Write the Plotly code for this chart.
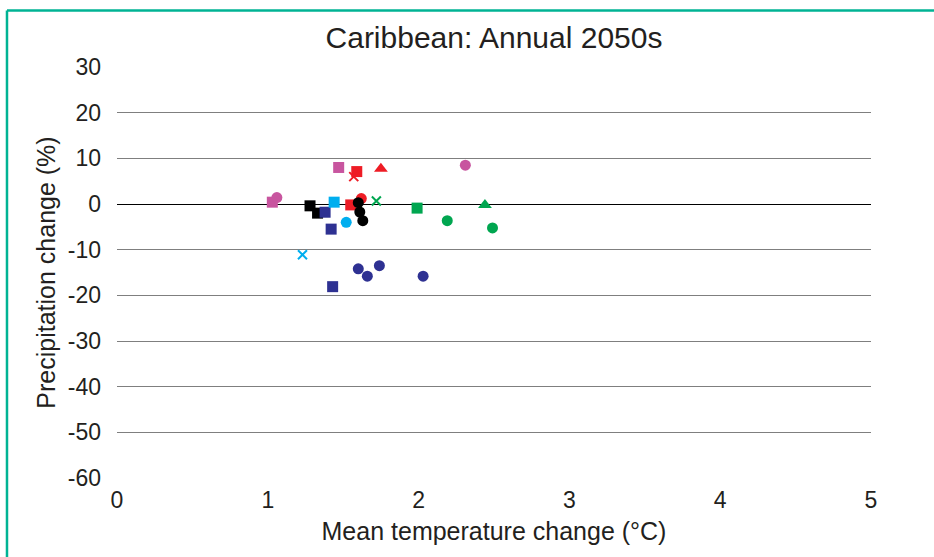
import plotly.graph_objects as go

# Data (x: mean temperature change °C, y: precipitation change %)
groups = [
    # (color, symbol, xs, ys)
    ("#c8559f", "square", [1.47, 1.03], [8.0, 0.4]),
    ("#c8559f", "circle", [1.06, 2.31], [1.4, 8.5]),
    ("#ee1c25", "square", [1.59, 1.55], [7.1, -0.2]),
    ("#ee1c25", "x-thin", [1.57], [6.0]),
    ("#ee1c25", "triangle-up", [1.75], [7.7]),
    ("#ee1c25", "circle", [1.62], [1.2]),
    ("#000000", "square", [1.28, 1.33], [-0.4, -2.0]),
    ("#000000", "circle", [1.60, 1.61, 1.63], [0.3, -1.75, -3.65]),
    ("#2e3192", "square", [1.38, 1.42, 1.43], [-1.8, -5.5, -18.1]),
    ("#2e3192", "circle", [1.60, 1.66, 1.74, 2.03], [-14.2, -15.8, -13.5, -15.8]),
    ("#00aeef", "square", [1.44], [0.4]),
    ("#00aeef", "circle", [1.52], [-4.0]),
    ("#00aeef", "x-thin", [1.23], [-11.1]),
    ("#00a650", "x-thin", [1.72], [0.65]),
    ("#00a650", "square", [1.99], [-0.9]),
    ("#00a650", "triangle-up", [2.44], [-0.2]),
    ("#00a650", "circle", [2.19, 2.49], [-3.65, -5.25]),
]

x_ticks = [0, 1, 2, 3, 4, 5]
y_ticks = [30, 20, 10, 0, -10, -20, -30, -40, -50, -60]
y_labels = ["30", "20", "10", "0", "-10", "-20", "-30", "-40", "-50", "-60"]

fig = go.Figure()
for color, sym, xs, ys in groups:
    is_x = sym == "x-thin"
    fig.add_trace(go.Scatter(
        x=xs, y=ys, mode="markers",
        marker=dict(
            symbol=sym,
            color=color,
            size=9 if is_x else (11 if sym != "triangle-up" else 12),
            line=dict(color=color, width=2 if is_x else 0),
        ),
        showlegend=False,
        cliponaxis=False,
    ))

font = "Liberation Sans, Arial, sans-serif"
fig.update_layout(
    width=934, height=557,
    margin=dict(l=117, r=63, t=67, b=79),
    paper_bgcolor="white", plot_bgcolor="white",
    font=dict(family=font, color="#231f20"),
    title=dict(text="Caribbean: Annual 2050s", x=0.5, xref="paper", xanchor="center",
               y=1 - 37 / 557, yanchor="middle", font=dict(size=30, color="#231f20")),
    xaxis=dict(range=[0, 5], tickvals=x_ticks, showgrid=False, zeroline=False,
               showline=False, ticks="", tickfont=dict(size=23), ticklabelstandoff=6,
               title=dict(text="Mean temperature change (°C)", font=dict(size=25), standoff=10)),
    yaxis=dict(range=[-60, 30], tickvals=y_ticks, ticktext=y_labels, showgrid=True,
               gridcolor="#7f7f7f", gridwidth=1, zeroline=True, zerolinecolor="#000000",
               zerolinewidth=1.4, showline=False, ticks="", tickfont=dict(size=23),
               ticklabelstandoff=15,
               title=dict(text="Precipitation change (%)", font=dict(size=25), standoff=5)),
    shapes=[
        dict(type="line", xref="paper", yref="paper", x0=-0.1459, x1=1.09,
             y0=1.1375, y1=1.1375, line=dict(color="#00b394", width=2.5)),
        dict(type="line", xref="paper", yref="paper", x0=-0.1459, x1=-0.1459,
             y0=1.1375, y1=-0.2, line=dict(color="#00b394", width=2.5)),
    ],
)

fig.write_html("out.html")
